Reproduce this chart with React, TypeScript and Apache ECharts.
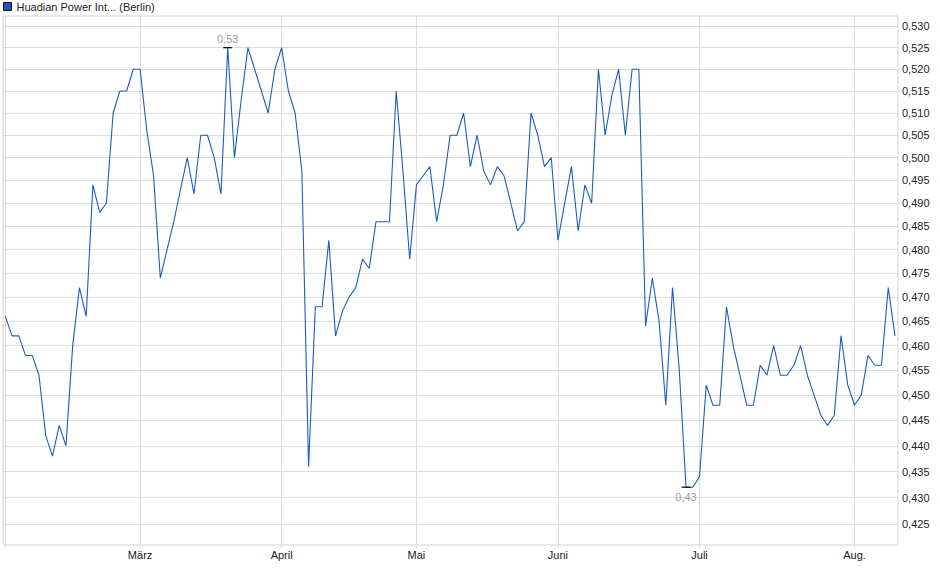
import { useEffect, useRef } from "react";
import * as echarts from "echarts";

const seriesName = "Huadian Power Int... (Berlin)";

// daily closes, one per trading session
const closes = [
  0.466, 0.462, 0.462, 0.458, 0.458, 0.454, 0.442, 0.438, 0.444, 0.44,
  0.46, 0.472, 0.466, 0.494, 0.488, 0.49, 0.51, 0.515, 0.515, 0.52,
  0.52, 0.506, 0.496, 0.474, 0.48, 0.486, 0.493, 0.5, 0.492, 0.505,
  0.505, 0.5, 0.492, 0.525, 0.5, 0.513, 0.525, 0.52, 0.515, 0.51,
  0.52, 0.525, 0.515, 0.51, 0.497, 0.436, 0.468, 0.468, 0.482, 0.462,
  0.467, 0.47, 0.472, 0.478, 0.476, 0.486, 0.486, 0.486, 0.515, 0.497,
  0.478, 0.494, 0.496, 0.498, 0.486, 0.494, 0.505, 0.505, 0.51, 0.498,
  0.505, 0.497, 0.494, 0.498, 0.496, 0.49, 0.484, 0.486, 0.51, 0.505,
  0.498, 0.5, 0.482, 0.49, 0.498, 0.484, 0.494, 0.49, 0.52, 0.505,
  0.514, 0.52, 0.505, 0.52, 0.52, 0.464, 0.474, 0.465, 0.448, 0.472,
  0.455, 0.432, 0.432, 0.434, 0.452, 0.448, 0.448, 0.468, 0.46, 0.454,
  0.448, 0.448, 0.456, 0.454, 0.46, 0.454, 0.454, 0.456, 0.46, 0.454,
  0.45, 0.446, 0.444, 0.446, 0.462, 0.452, 0.448, 0.45, 0.458, 0.456,
  0.456, 0.472, 0.462,
];

// session index of the first trading day of each month
const monthStarts = [0, 20, 41, 61, 82, 103, 126];
const monthLabels = ["Feb.", "März", "April", "Mai", "Juni", "Juli", "Aug."];

const priceTicks = [
  0.425, 0.43, 0.435, 0.44, 0.445, 0.45, 0.455, 0.46, 0.465, 0.47, 0.475,
  0.48, 0.485, 0.49, 0.495, 0.5, 0.505, 0.51, 0.515, 0.52, 0.525, 0.53,
];

const FONT = '"Liberation Sans", Arial, Helvetica, sans-serif';
const LINE = "#1a5cc4";
const GRID = "#dcdcdc";

function indexOfExtreme(values: number[], pick: "max" | "min") {
  let best = 0;
  values.forEach((v, i) => {
    if (pick === "max" ? v > values[best] : v < values[best]) best = i;
  });
  return best;
}

function getOption() {
  const hi = indexOfExtreme(closes, "max");
  const lo = indexOfExtreme(closes, "min");
  const fmt2 = (v: number) => v.toFixed(2).replace(".", ",");

  return {
    animation: false,
    textStyle: { fontFamily: FONT },
    legend: {
      left: 3,
      top: 1,
      padding: 0,
      icon: "rect",
      itemWidth: 8,
      itemHeight: 8,
      itemGap: 0,
      data: [seriesName],
      itemStyle: { color: "#1c55b8", borderColor: "#111", borderWidth: 1 },
      textStyle: { fontSize: 11, color: "#222", fontFamily: FONT },
    },
    grid: {
      left: 3,
      top: 16,
      right: 42,
      bottom: 34,
      show: true,
      borderColor: "#d2d2d2",
      borderWidth: 1,
      containLabel: false,
      outerBoundsMode: "none",
    },
    xAxis: {
      type: "value",
      min: -0.34,
      max: closes.length - 1 + 0.45,
      axisLine: { show: false },
      axisTick: {
        show: true,
        length: 3,
        customValues: monthStarts,
        lineStyle: { color: GRID },
      },
      axisLabel: {
        customValues: monthStarts.slice(1),
        formatter: (v: number) => monthLabels[monthStarts.indexOf(v)] ?? "",
        fontSize: 11,
        color: "#222",
        margin: 4,
        fontFamily: FONT,
      },
      splitLine: { show: true, lineStyle: { color: GRID, width: 1 } },
    },
    yAxis: {
      type: "log",
      position: "right",
      min: 0.42106,
      max: 0.53243,
      axisLine: { show: false },
      axisTick: { show: false, customValues: priceTicks },
      axisLabel: {
        customValues: priceTicks,
        formatter: (v: number) => v.toFixed(3).replace(".", ","),
        fontSize: 11,
        color: "#222",
        margin: 4,
        fontFamily: FONT,
      },
      splitLine: { show: true, lineStyle: { color: GRID, width: 1 } },
    },
    series: [
      {
        name: seriesName,
        type: "line",
        data: closes.map((v, i) => [i, v]),
        showSymbol: false,
        symbol: "none",
        lineStyle: { width: 1.1, color: LINE },
        itemStyle: { color: LINE },
        emphasis: { disabled: true },
        markPoint: {
          symbol: "rect",
          symbolSize: [9, 1.2],
          itemStyle: { color: "#000" },
          label: {
            show: true,
            color: "#a09c98",
            fontSize: 11,
            fontFamily: FONT,
            formatter: (p: any) => fmt2(p.value),
          },
          data: [
            {
              coord: [hi, closes[hi]],
              value: closes[hi],
              label: { position: "top", distance: 3 },
            },
            {
              coord: [lo, closes[lo]],
              value: closes[lo],
              label: { position: "bottom", distance: 4 },
            },
          ],
        },
      },
    ],
  };
}

export default function App() {
  const ref = useRef<HTMLDivElement>(null);

  useEffect(() => {
    document.body.style.margin = "0";
    if (!ref.current) return;
    const chart = echarts.init(ref.current, undefined, { renderer: "svg" });
    chart.setOption(getOption());
    return () => {
      chart.dispose();
    };
  }, []);

  return <div ref={ref} style={{ width: 940, height: 579, background: "#fff" }} />;
}
